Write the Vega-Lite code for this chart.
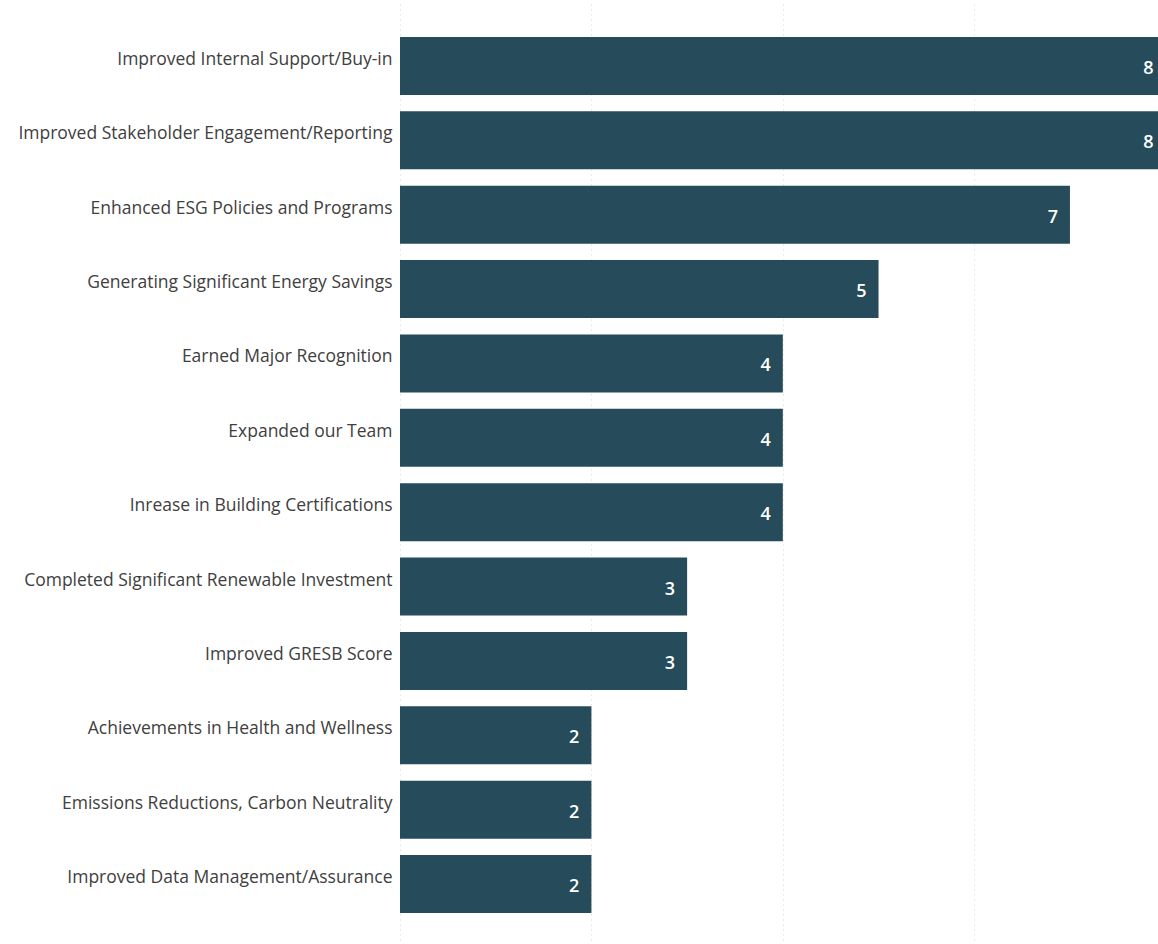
{
  "$schema": "https://vega.github.io/schema/vega-lite/v6.json",
  "width": 758,
  "height": 950,
  "autosize": "none",
  "padding": {"left": 400, "top": 0, "right": 0, "bottom": 0},
  "background": "white",
  "config": {"view": {"stroke": null}, "font": "Open Sans"},
  "data": {
    "values": [
      {"category": "Improved Internal Support/Buy-in", "count": 8},
      {"category": "Improved Stakeholder Engagement/Reporting", "count": 8},
      {"category": "Enhanced ESG Policies and Programs", "count": 7},
      {"category": "Generating Significant Energy Savings", "count": 5},
      {"category": "Earned Major Recognition", "count": 4},
      {"category": "Expanded our Team", "count": 4},
      {"category": "Inrease in Building Certifications", "count": 4},
      {"category": "Completed Significant Renewable Investment", "count": 3},
      {"category": "Improved GRESB Score", "count": 3},
      {"category": "Achievements in Health and Wellness", "count": 2},
      {"category": "Emissions Reductions, Carbon Neutrality", "count": 2},
      {"category": "Improved Data Management/Assurance", "count": 2}
    ]
  },
  "encoding": {
    "y": {
      "field": "category",
      "type": "nominal",
      "sort": null,
      "title": null,
      "scale": {"paddingInner": 0.221, "paddingOuter": 0.497},
      "axis": {
        "domain": false,
        "ticks": false,
        "labelPadding": 8,
        "labelFontSize": 17.5,
        "labelColor": "#404040",
        "labelLimit": 420,
        "labelFont": "Open Sans",
        "labelOffset": -6
      }
    },
    "x": {
      "field": "count",
      "type": "quantitative",
      "title": null,
      "scale": {"domain": [0, 7.92], "nice": false, "zero": true},
      "axis": {
        "values": [0, 2, 4, 6],
        "labels": false,
        "ticks": false,
        "domain": false,
        "grid": true,
        "gridColor": "#d4d4d4",
        "gridDash": [1, 4],
        "gridWidth": 1
      }
    }
  },
  "layer": [
    {"mark": {"type": "bar", "color": "#264b5a", "clip": true}},
    {
      "mark": {
        "type": "text",
        "align": "right",
        "baseline": "middle",
        "dx": -12,
        "dy": 3,
        "color": "white",
        "fontSize": 18,
        "fontWeight": 600,
        "font": "Open Sans"
      },
      "encoding": {"text": {"field": "count", "type": "quantitative"}}
    }
  ]
}
